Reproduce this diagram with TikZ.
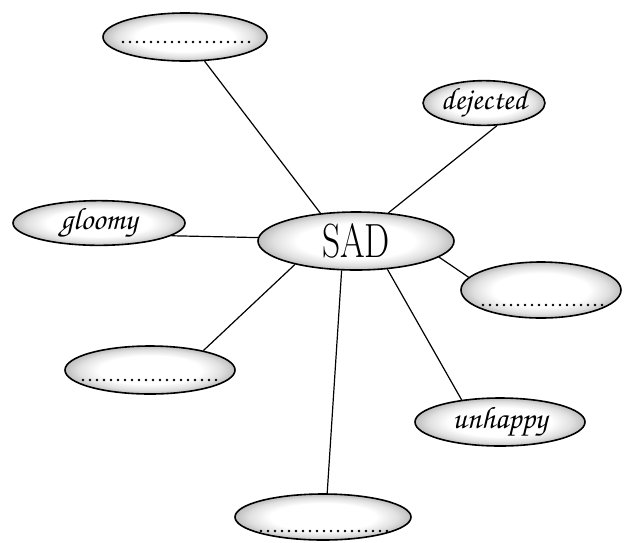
\documentclass[tikz,border=0pt]{standalone}
\usepackage[T1,TU]{fontenc}
\usetikzlibrary{shapes.geometric,calc}
\pgfdeclareradialshading{ringshade}{\pgfpoint{0bp}{0bp}}{color(0bp)=(white); color(15bp)=(white); color(21bp)=(black!12); color(25bp)=(black!26); color(50bp)=(black!26)}
\newcommand\chanc{\fontencoding{T1}\fontfamily{pzc}\fontseries{mb}\fontshape{it}\selectfont}
\begin{document}
\begin{tikzpicture}[x=1pt,y=-1pt,
  bub/.style={ellipse, draw=black, line width=1.6pt, shade, shading=ringshade, inner sep=0pt},
  link/.style={line width=1.2pt},
  blank/.style={line width=2.6pt, line cap=round, dash pattern=on 0pt off 7pt},
  word/.style={font=\chanc\fontsize{31}{31}\selectfont}]
\useasboundingbox (0,0) rectangle (636,542);

\node[bub, minimum width=164, minimum height=48] (tl) at (185,37) {};
\node[bub, word, minimum width=116, minimum height=40] (dej) at (484,103) {dejected};
\node[bub, word, minimum width=172, minimum height=42] (gloomy) at (99,223) {gloomy};
\node[bub, minimum width=196, minimum height=58, font=\fontsize{48}{48}\selectfont] (sad) at (356,241) {\scalebox{0.74}[1]{SAD}};
\node[bub, minimum width=160, minimum height=56] (rm) at (541,290) {};
\node[bub, minimum width=170, minimum height=48] (lb) at (150,370) {};
\node[bub, word, minimum width=170, minimum height=48] (unh) at (500,422) {unhappy};
\node[bub, minimum width=176, minimum height=46] (bot) at (323,517) {};

\draw[blank] ($(tl)+(-62,5)$) -- ($(tl)+(68,5)$);
\draw[blank] ($(rm)+(-58,15)$) -- ($(rm)+(62,15)$);
\draw[blank] ($(lb)+(-67,10)$) -- ($(lb)+(67,10)$);
\draw[blank] ($(bot)+(-62,14)$) -- ($(bot)+(66,14)$);

\draw[link] (tl.-51) -- (sad.142);
\draw[link] (dej.-60) -- (sad.41);
\draw[link] (gloomy.-10) -- (sad.178);
\draw[link] (sad.-11) -- (rm.170);
\draw[link] (sad.201) -- (lb.20);
\draw[link] (sad.-42) -- (unh.150);
\draw[link] (sad.-116) -- (bot.80);
\end{tikzpicture}
\end{document}
